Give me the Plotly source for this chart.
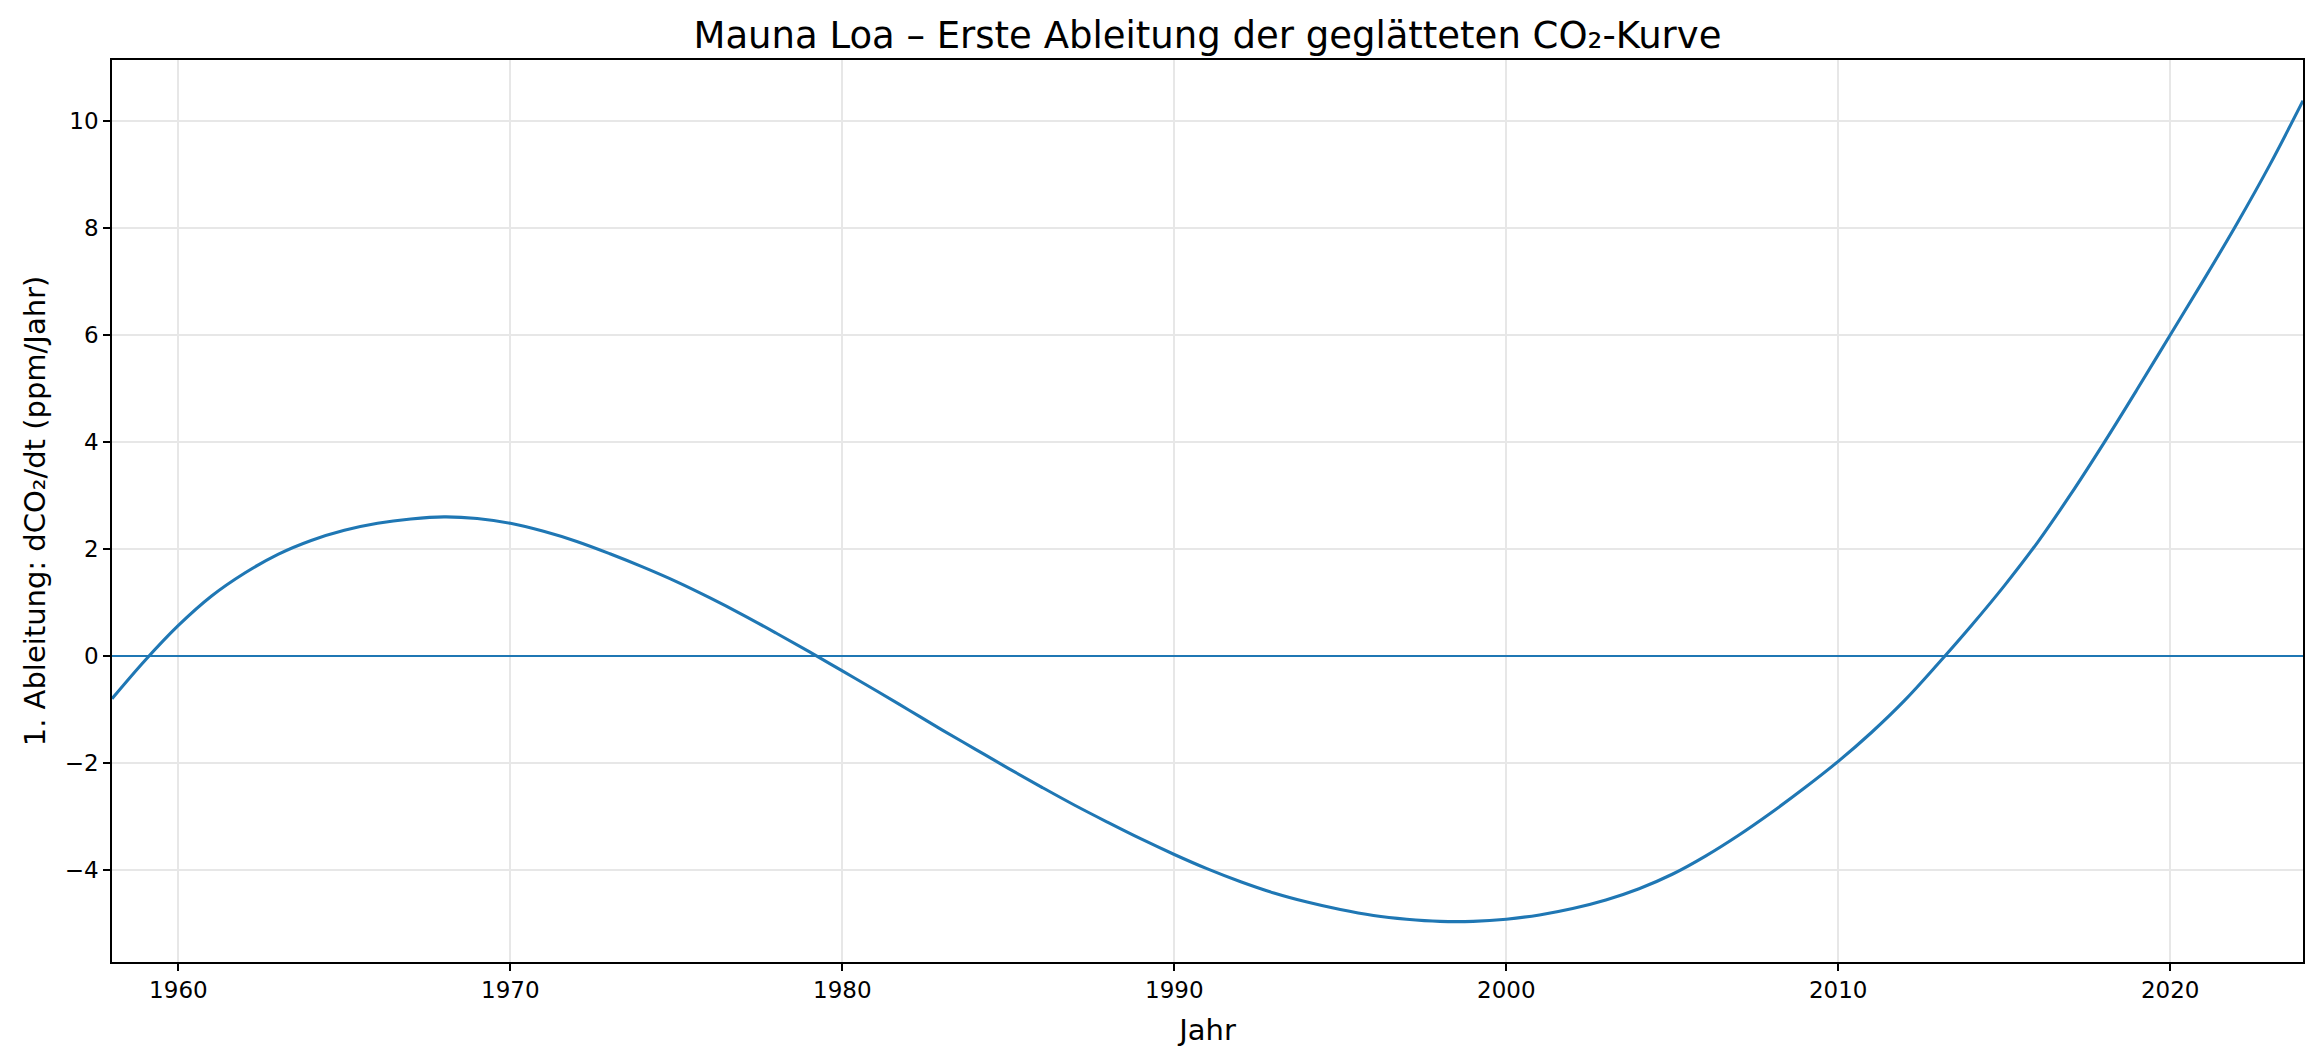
"""
Mauna Loa: first derivative of the smoothed CO2 curve
"""

import plotly.graph_objects as go

# values (one per year)
years = [1958, 1959, 1960, 1961, 1962, 1963, 1964, 1965, 1966, 1967, 1968,
         1969, 1970, 1971, 1972, 1973, 1974, 1975, 1976, 1977, 1978, 1979,
         1980, 1981, 1982, 1983, 1984, 1985, 1986, 1987, 1988, 1989, 1990,
         1991, 1992, 1993, 1994, 1995, 1996, 1997, 1998, 1999, 2000,
         2001, 2002, 2003, 2004, 2005, 2006, 2007, 2008, 2009, 2010,
         2011, 2012, 2013, 2014, 2015, 2016, 2017, 2018, 2019, 2020,
         2021, 2022, 2023, 2024]
deriv = [-0.80, -0.08, 0.57, 1.12, 1.55, 1.90, 2.16, 2.35, 2.48, 2.56, 2.60,
         2.57, 2.48, 2.33, 2.14, 1.91, 1.66, 1.39, 1.09, 0.77, 0.43, 0.08,
         -0.28, -0.64, -1.01, -1.38, -1.74, -2.10, -2.45, -2.79, -3.11, -3.42, -3.71,
         -3.98, -4.22, -4.43, -4.60, -4.74, -4.85, -4.92, -4.96, -4.96, -4.92,
         -4.84, -4.72, -4.56, -4.35, -4.08, -3.74, -3.35, -2.92, -2.46, -1.97,
         -1.43, -0.83, -0.15, 0.56, 1.31, 2.12, 3.02, 3.98, 4.98, 6.00,
         7.02, 8.07, 9.18, 10.38]

x_ticks = [1960, 1970, 1980, 1990, 2000, 2010, 2020]
y_ticks = [-4, -2, 0, 2, 4, 6, 8, 10]
y_labels = ["\u22124", "\u22122", "0", "2", "4", "6", "8", "10"]

blue = "#1f77b4"
font = "DejaVu Sans"

fig = go.Figure()
fig.add_trace(go.Scatter(x=years, y=deriv, mode="lines",
                         line=dict(color=blue, width=3.1, shape="spline"),
                         showlegend=False))
fig.add_hline(y=0, line=dict(color=blue, width=2))

axis_common = dict(showline=True, mirror=True, linecolor="black", linewidth=1.7,
                   ticks="outside", ticklen=7, tickwidth=1.7, tickcolor="black",
                   showgrid=True, gridcolor="#e7e7e7", gridwidth=1.6,
                   zeroline=False, tickfont=dict(family=font, size=23, color="black"))

fig.update_xaxes(range=[1958.0, 2024.0], tickvals=x_ticks,
                 title=dict(text="Jahr", font=dict(family=font, size=29, color="black"),
                            standoff=17),
                 **axis_common)
fig.update_yaxes(range=[-5.72, 11.14], tickvals=y_ticks, ticktext=y_labels,
                 title=dict(text="1. Ableitung: dCO\u2082/dt (ppm/Jahr)",
                            font=dict(family=font, size=29, color="black"),
                            standoff=10),
                 **axis_common)

fig.update_layout(
    width=2321, height=1061,
    margin=dict(l=112, r=18, t=60, b=99),
    paper_bgcolor="white", plot_bgcolor="white",
    title=dict(text="Mauna Loa \u2013 Erste Ableitung der geglätteten CO\u2082-Kurve",
               font=dict(family=font, size=37, color="black"),
               x=0.5, xref="paper", xanchor="center",
               y=1, yref="paper", yanchor="bottom", pad=dict(b=12)),
)

# drop the default page margin so the figure sits at the window's corner
fig.write_html("out.html", config={"displayModeBar": False},
               post_script="document.body.style.margin='0px';")
